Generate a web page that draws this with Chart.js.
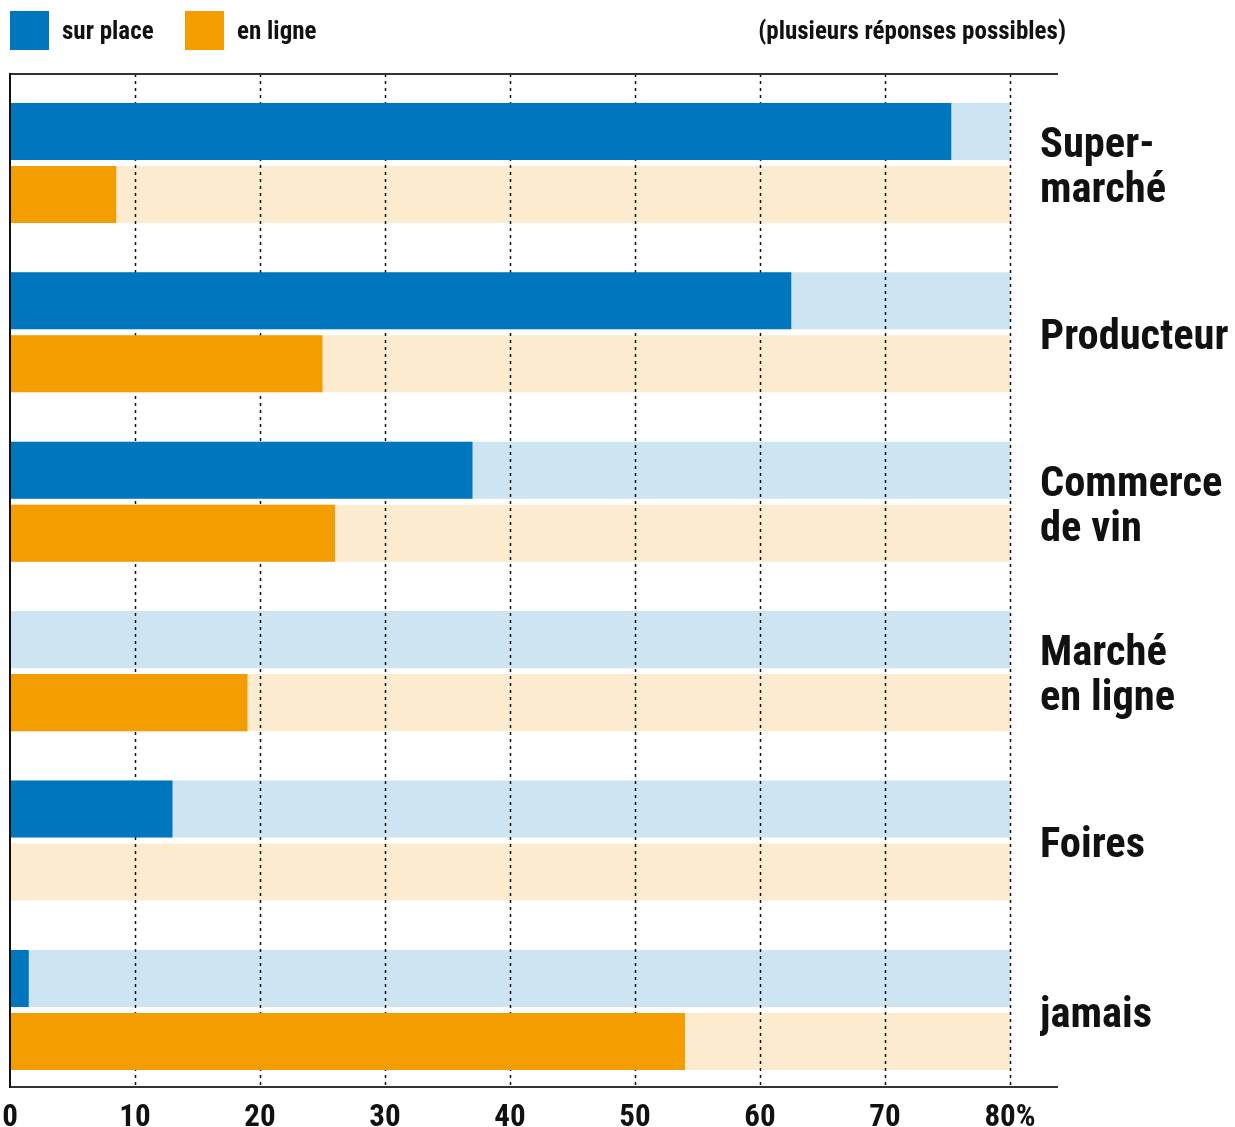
<!DOCTYPE html>
<html lang="fr">
<head>
<meta charset="utf-8">
<title>Achat de vin : sur place / en ligne</title>
<script src="https://cdn.jsdelivr.net/npm/chart.js@4.4.1/dist/chart.umd.min.js"></script>
<style>
  html, body { margin: 0; padding: 0; background: #ffffff; }
  #wrap { position: relative; width: 1235px; height: 1127px; overflow: hidden; }
  #chart { position: absolute; left: 0; top: 0; }
  .lg { position: absolute; font-family: 'Liberation Sans Narrow', 'Roboto Condensed', 'DejaVu Sans Condensed', 'Arial Narrow', sans-serif; font-weight: bold; font-size: 25px; color: #111; line-height: 40px; white-space: nowrap; }
  .box { position: absolute; width: 39px; height: 39px; }
</style>
</head>
<body>
<div id="wrap">
  <canvas id="chart" width="1235" height="1127"></canvas>
</div>
<script>
// ---- data ----
const categories = [['Super-', 'marché'], 'Producteur', ['Commerce', 'de vin'], ['Marché', 'en ligne'], 'Foires', 'jamais'];
const seriesNames = ['sur place', 'en ligne'];
const surPlace = [75.3, 62.5, 37, 0, 13, 1.5];
const enLigne = [8.5, 25, 26, 19, 0, 54];
const trackValue = 80;
const xTicks = [0, 10, 20, 30, 40, 50, 60, 70, 80];
const xTickLabels = ['0', '10', '20', '30', '40', '50', '60', '70', '80%'];
const note = '(plusieurs réponses possibles)';

// ---- styles ----
const FONT = "'Liberation Sans Narrow', 'Roboto Condensed', 'DejaVu Sans Condensed', 'Arial Narrow', sans-serif";
const colors = ['#0076be', '#f39d00'];
const trackColors = ['#cde4f2', '#fcebcf'];
const AXIS_OVERHANG = 18; // top/bottom rules run past the plot area, under the labels

// ---- HTML legend ----
const wrap = document.getElementById('wrap');
const legendPos = [{box: 10, text: 62}, {box: 185, text: 237}];
seriesNames.forEach((name, i) => {
  const b = document.createElement('div');
  b.className = 'box';
  b.style.left = legendPos[i].box + 'px';
  b.style.top = '11px';
  b.style.background = colors[i];
  wrap.appendChild(b);
  const t = document.createElement('div');
  t.className = 'lg';
  t.style.left = legendPos[i].text + 'px';
  t.style.top = '11px';
  t.textContent = name;
  wrap.appendChild(t);
});
const n = document.createElement('div');
n.className = 'lg';
n.style.right = (1235 - 1066) + 'px';
n.style.top = '11px';
n.textContent = note;
wrap.appendChild(n);

// ---- datasets ----
const toPts = arr => arr.map((v, i) => ({x: v, y: i}));
const track = categories.map(() => trackValue);

const midGrid = {
  id: 'midGrid',
  beforeDatasetDraw(chart, args) {
    if (args.index !== 1) return;
    const {ctx, chartArea} = chart;
    const xs = chart.scales.x;
    ctx.save();
    ctx.strokeStyle = '#111';
    ctx.lineWidth = 1.5;
    ctx.setLineDash([3, 4]);
    xTicks.forEach(v => {
      if (v === 0) return;
      const px = Math.round(xs.getPixelForValue(v)) + 0.5;
      ctx.beginPath();
      ctx.moveTo(px, chartArea.top);
      ctx.lineTo(px, chartArea.bottom);
      ctx.stroke();
    });
    ctx.restore();
  },
  afterDatasetsDraw(chart) {
    const {ctx, chartArea} = chart;
    const xs = chart.scales.x;
    ctx.save();
    ctx.strokeStyle = '#333';
    ctx.lineWidth = 2;
    ctx.beginPath();
    ctx.moveTo(chartArea.left, chartArea.top);
    ctx.lineTo(chartArea.right + AXIS_OVERHANG, chartArea.top);
    ctx.moveTo(chartArea.left, chartArea.bottom);
    ctx.lineTo(chartArea.right + AXIS_OVERHANG, chartArea.bottom);
    ctx.stroke();
    ctx.strokeStyle = '#111';
    const x0 = xs.getPixelForValue(0);
    ctx.beginPath();
    ctx.moveTo(x0, chartArea.top - 1);
    ctx.lineTo(x0, chartArea.bottom + 1);
    ctx.stroke();
    ctx.restore();
  }
};

const common = {borderWidth: 0, categoryPercentage: 0.744, barPercentage: 0.905};

new Chart(document.getElementById('chart'), {
  type: 'bar',
  data: {
    datasets: [
      Object.assign({label: seriesNames[0], data: toPts(surPlace), backgroundColor: colors[0], stack: 'a', order: 1}, common),
      Object.assign({label: seriesNames[1], data: toPts(enLigne), backgroundColor: colors[1], stack: 'b', order: 1}, common),
      Object.assign({label: seriesNames[0] + ' (max)', data: toPts(track), backgroundColor: trackColors[0], stack: 'a', order: 2}, common),
      Object.assign({label: seriesNames[1] + ' (max)', data: toPts(track), backgroundColor: trackColors[1], stack: 'b', order: 2}, common)
    ]
  },
  plugins: [midGrid],
  options: {
    indexAxis: 'y',
    responsive: false,
    animation: false,
    layout: {padding: {left: 10, top: 74, right: 0, bottom: 0}},
    plugins: {legend: {display: false}, tooltip: {enabled: false}, title: {display: false}},
    scales: {
      x: {
        type: 'linear',
        position: 'bottom',
        stacked: false,
        bounds: 'data',
        min: 0,
        max: 82.4,
        afterBuildTicks: s => { s.ticks = xTicks.map(v => ({value: v})); },
        afterFit: s => { s.height = 40; s.paddingLeft = 0; s.paddingRight = 0; },
        grid: {display: false, drawTicks: false},
        border: {display: false},
        ticks: {
          padding: 13,
          maxRotation: 0,
          autoSkip: false,
          color: '#111',
          font: {family: FONT, size: 31, weight: 'bold'},
          callback: (v) => xTickLabels[xTicks.indexOf(v)]
        }
      },
      y: {
        type: 'linear',
        position: 'right',
        reverse: true,
        offset: false,
        bounds: 'data',
        min: -0.525,
        max: 5.455,
        afterBuildTicks: s => { s.ticks = categories.map((c, i) => ({value: i})); },
        afterFit: s => { s.width = 195; s.paddingTop = 0; s.paddingBottom = 0; },
        grid: {display: false, drawTicks: false, offset: false},
        border: {display: false},
        ticks: {
          padding: 0,
          labelOffset: 6,
          crossAlign: 'near',
          autoSkip: false,
          color: '#111',
          font: {family: FONT, size: 42.5, weight: 'bold', lineHeight: 1.05},
          callback: (v) => categories[v]
        }
      }
    }
  }
});
</script>
</body>
</html>
